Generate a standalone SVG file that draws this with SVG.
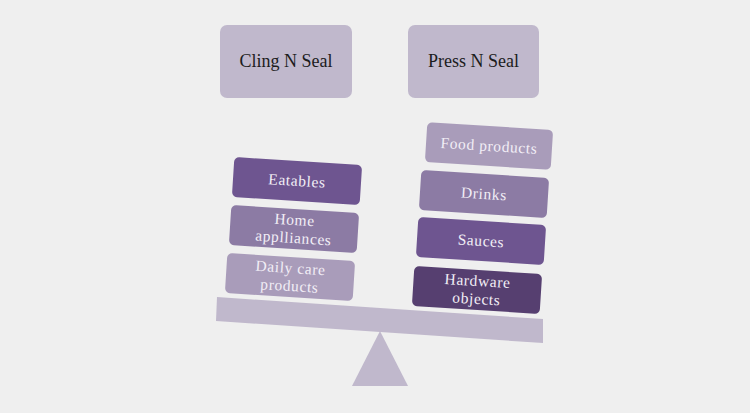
<svg xmlns="http://www.w3.org/2000/svg" width="750" height="413" viewBox="0 0 750 413">
<style>
.bg{fill:#efefef}
.top{fill:#c0b8cc}
.topt{font-family:"Liberation Serif","DejaVu Serif",serif;font-size:18px;fill:#1c1c1c;text-anchor:middle}
.bt{font-family:"Liberation Serif","DejaVu Serif",serif;font-size:15.5px;fill:#f2eef6;text-anchor:middle;letter-spacing:0.6px}
.c1{fill:#6e5590}
.c2{fill:#8c7ba4}
.c3{fill:#a99cba}
.c4{fill:#563f70}
.base{fill:#c0b8cc}
</style>
<rect class="bg" width="750" height="413"/>
<g id="cling">
<rect class="top" x="220" y="25" width="132" height="73" rx="7"/>
<text class="topt" x="286" y="67">Cling N Seal</text>
</g>
<g id="press">
<rect class="top" x="408" y="25" width="131" height="73" rx="7"/>
<text class="topt" x="473.5" y="67">Press N Seal</text>
</g>
<g id="eatables" transform="translate(297,181) rotate(3.6)">
<rect class="c1" x="-64" y="-20" width="128" height="40" rx="5"/>
<text class="bt" y="5">Eatables</text>
</g>
<g id="home" transform="translate(294,229) rotate(3.6)">
<rect class="c2" x="-64" y="-20" width="128" height="40" rx="5"/>
<text class="bt" y="-4">Home</text>
<text class="bt" y="14">applliances</text>
</g>
<g id="daily" transform="translate(290,277) rotate(3.6)">
<rect class="c3" x="-64" y="-20" width="128" height="40" rx="5"/>
<text class="bt" y="-4">Daily care</text>
<text class="bt" y="14">products</text>
</g>
<g id="food" transform="translate(489,146) rotate(3.6)">
<rect class="c3" x="-63" y="-20" width="126" height="40" rx="5"/>
<text class="bt" y="5">Food products</text>
</g>
<g id="drinks" transform="translate(484,194) rotate(3.6)">
<rect class="c2" x="-64" y="-20" width="128" height="40" rx="5"/>
<text class="bt" y="5">Drinks</text>
</g>
<g id="sauces" transform="translate(481,241) rotate(3.6)">
<rect class="c1" x="-64" y="-20" width="128" height="40" rx="5"/>
<text class="bt" y="5">Sauces</text>
</g>
<g id="hardware" transform="translate(477,290) rotate(3.6)">
<rect class="c4" x="-64" y="-20" width="128" height="40" rx="5"/>
<text class="bt" y="-4">Hardware</text>
<text class="bt" y="14">objects</text>
</g>
<g id="scale">
<polygon class="base" points="217,297 543,319 543,343 216,321"/>
<polygon class="base" points="380,331 408,386 352,386"/>
</g>
</svg>
